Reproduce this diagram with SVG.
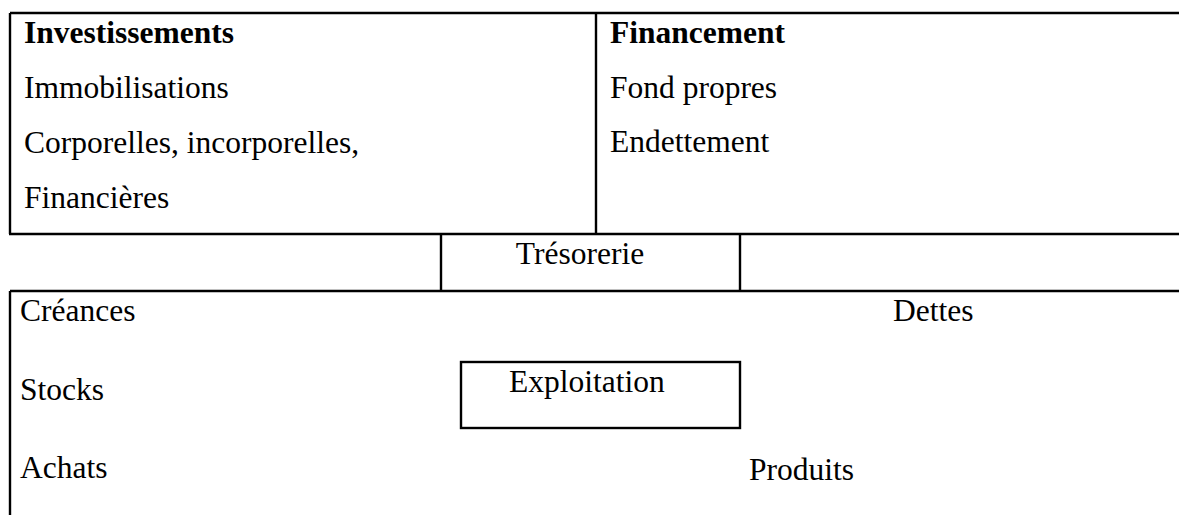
<svg xmlns="http://www.w3.org/2000/svg" width="1179" height="515" viewBox="0 0 1179 515">
<style>
.ln{stroke:#000;stroke-width:2.4;fill:none}
.t{font-family:"Liberation Serif","Times New Roman",serif;font-size:31.5px;fill:#000}
.b{font-weight:bold}
</style>
<rect width="1179" height="515" fill="#fff"/>
<g id="investissements">
<path class="ln" d="M10,13 H596 M10,13 V234"/>
<text class="t b" x="24" y="43">Investissements</text>
<text class="t" x="24" y="98">Immobilisations</text>
<text class="t" x="24" y="153">Corporelles, incorporelles,</text>
<text class="t" x="24" y="208">Financières</text>
</g>
<g id="financement">
<path class="ln" d="M596,13 H1179 M596,13 V234"/>
<text class="t b" x="610" y="43">Financement</text>
<text class="t" x="610" y="98">Fond propres</text>
<text class="t" x="610" y="152">Endettement</text>
</g>
<g id="tresorerie">
<path class="ln" d="M9,234 H1179 M441,234 V291 M740,234 V291"/>
<text class="t" x="580" y="264" text-anchor="middle">Trésorerie</text>
</g>
<g id="cycle">
<path class="ln" d="M10,291 H1179 M10,291 V515"/>
<text class="t" x="20" y="321">Créances</text>
<text class="t" x="20" y="400">Stocks</text>
<text class="t" x="20" y="478">Achats</text>
<text class="t" x="893" y="321">Dettes</text>
<text class="t" x="749" y="480">Produits</text>
</g>
<g id="exploitation">
<rect class="ln" x="461" y="362" width="279" height="66"/>
<text class="t" x="509" y="392">Exploitation</text>
</g>
<g id="connectors"></g>
</svg>
